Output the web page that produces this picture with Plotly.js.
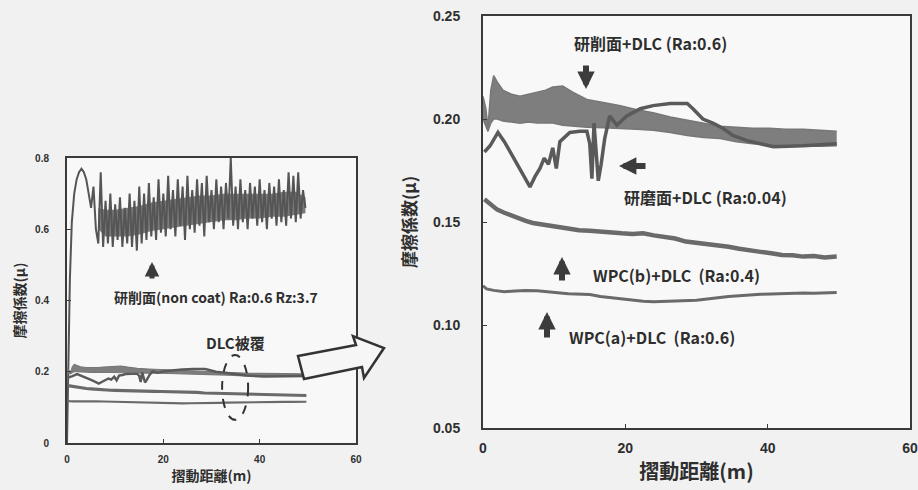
<!DOCTYPE html>
<html>
<head>
<meta charset="utf-8">
<script src="https://cdn.plot.ly/plotly-3.0.1.min.js"></script>
<style>html,body{margin:0;padding:0;background:#f1f1f1;}#chart{width:918px;height:490px;}</style>
</head>
<body>
<div id="chart"></div>
<script>
// ---- Data ----
// Left chart: uncoated ground surface (研削面, non coat)
const nonCoatX = [0, 0.3, 0.6, 1.0, 1.5, 2.0, 2.5, 3.0, 3.5, 4.0, 4.5, 5.0, 5.5, 6.0, 6.5, 7.0,
  7.5, 8.0, 8.5, 9.0, 9.5, 10.0, 10.5, 11.0, 11.5, 12.0, 12.5, 13.0, 13.5, 14.0, 14.5, 15.0, 15.5, 16.0,
  16.5, 17.0, 17.5, 18.0, 18.5, 19.0, 19.5, 20.0, 20.5, 21.0, 21.5, 22.0, 22.5, 23.0, 23.5, 24.0, 24.5,
  25.0, 25.5, 26.0, 26.5, 27.0, 27.5, 28.0, 28.5, 29.0, 29.5, 30.0, 30.5, 31.0, 31.5, 32.0, 32.5, 33.0,
  33.5, 34.0, 34.5, 35.0, 35.5, 36.0, 36.5, 37.0, 37.5, 38.0, 38.5, 39.0, 39.5, 40.0, 40.5, 41.0, 41.5,
  42.0, 42.5, 43.0, 43.5, 44.0, 44.5, 45.0, 45.5, 46.0, 46.5, 47.0, 47.5, 48.0, 48.5, 49.0, 49.5];
const nonCoatY = [0, 0.22, 0.46, 0.62, 0.70, 0.74, 0.76, 0.77, 0.76, 0.74, 0.70, 0.66, 0.72, 0.60, 0.56, 0.76,
  0.55, 0.68, 0.56, 0.70, 0.55, 0.67, 0.57, 0.69, 0.55, 0.66, 0.56, 0.70, 0.55, 0.68, 0.54, 0.72, 0.56, 0.70,
  0.57, 0.73, 0.58, 0.69, 0.57, 0.74, 0.59, 0.70, 0.58, 0.75, 0.60, 0.71, 0.58, 0.74, 0.61, 0.72, 0.57,
  0.75, 0.60, 0.71, 0.59, 0.74, 0.61, 0.73, 0.58, 0.75, 0.62, 0.71, 0.60, 0.74, 0.62, 0.72, 0.60, 0.73,
  0.63, 0.80, 0.61, 0.72, 0.60, 0.74, 0.62, 0.71, 0.60, 0.73, 0.63, 0.72, 0.61, 0.74, 0.62, 0.71, 0.60,
  0.73, 0.63, 0.72, 0.61, 0.74, 0.62, 0.71, 0.61, 0.76, 0.63, 0.75, 0.62, 0.76, 0.63, 0.71, 0.66];
// dense core of the uncoated trace (where the oscillations overlap)
const nonCoatCoreX = [6.5, 8, 10, 12.5, 15, 17.5, 20, 22.5, 25, 27.5, 30, 32.5, 35, 37.5, 40, 42.5, 45, 47.5, 49.5];
const nonCoatCoreLow = [0.60, 0.58, 0.58, 0.58, 0.585, 0.595, 0.60, 0.605, 0.61, 0.615, 0.62, 0.625, 0.625, 0.63, 0.63, 0.635, 0.635, 0.64, 0.645];
const nonCoatCoreHigh = [0.66, 0.655, 0.655, 0.66, 0.665, 0.675, 0.68, 0.685, 0.69, 0.695, 0.695, 0.70, 0.70, 0.70, 0.70, 0.70, 0.705, 0.705, 0.69];

// 研削面+DLC (Ra:0.6): noisy band, upper and lower envelopes
const groundX = [0, 0.4, 0.7, 1.1, 1.5, 2.0, 2.8, 4.0, 5.2, 6.4, 7.6, 8.8, 9.8, 11.2, 12.6, 14.6, 16.9,
  19.3, 21.6, 23.9, 26.3, 28.7, 31.0, 33.3, 35.6, 37.9, 40.2, 42.6, 45.0, 47.3, 49.7];
const groundUpper = [0.211, 0.205, 0.196, 0.214, 0.221, 0.218, 0.214, 0.212, 0.211, 0.212, 0.213, 0.214,
  0.2155, 0.216, 0.213, 0.2095, 0.208, 0.2065, 0.2045, 0.203, 0.201, 0.1995, 0.198, 0.1965, 0.196,
  0.1955, 0.1955, 0.195, 0.195, 0.1945, 0.194];
const groundLower = [0.200, 0.196, 0.194, 0.198, 0.200, 0.200, 0.199, 0.1985, 0.198, 0.1985, 0.198, 0.198,
  0.198, 0.197, 0.1965, 0.196, 0.1958, 0.1955, 0.195, 0.1945, 0.1935, 0.192, 0.191, 0.1905, 0.189,
  0.188, 0.1875, 0.187, 0.187, 0.1868, 0.187];

// 研磨面+DLC (Ra:0.04)
const polishX = [0.2, 1.0, 2.1, 3.0, 4.0, 5.0, 6.0, 6.6, 7.3, 8.0, 8.6, 9.2, 9.8, 10.3, 10.8, 11.5, 12.2,
  13.6, 14.6, 15.0, 15.3, 15.6, 15.9, 16.2, 16.6, 17.1, 17.8, 18.8, 20.2, 22.1, 23.9, 26.3, 28.7, 29.5,
  30.9, 32.3, 33.7, 35.1, 37.1, 40.8, 45.0, 49.7];
const polishY = [0.184, 0.187, 0.1935, 0.189, 0.183, 0.177, 0.171, 0.167, 0.172, 0.176, 0.181, 0.178,
  0.186, 0.176, 0.189, 0.191, 0.1935, 0.194, 0.194, 0.188, 0.171, 0.198, 0.185, 0.170, 0.178, 0.1905,
  0.2015, 0.197, 0.2015, 0.205, 0.2065, 0.2075, 0.2075, 0.205, 0.200, 0.198, 0.1955, 0.192, 0.1895,
  0.1865, 0.187, 0.188];

// WPC(b)+DLC (Ra:0.4)
const wpcbX = [0.2, 1, 2, 3, 4, 5, 6, 7, 8, 9, 10, 11, 12, 13.5, 15, 16.5, 18, 19.5, 21, 22.5, 24, 25.5,
  27, 28.5, 30, 31.5, 33, 34.5, 36, 37.5, 39, 40.5, 42, 43.5, 45, 46.5, 48, 49.7];
const wpcbY = [0.161, 0.159, 0.156, 0.1545, 0.153, 0.152, 0.1505, 0.1495, 0.149, 0.148, 0.1478, 0.1472,
  0.147, 0.146, 0.1458, 0.1452, 0.145, 0.1445, 0.1442, 0.1445, 0.1435, 0.143, 0.142, 0.1405, 0.14,
  0.139, 0.1385, 0.138, 0.137, 0.136, 0.1355, 0.1348, 0.134, 0.1338, 0.1332, 0.1335, 0.1328, 0.1332];

// WPC(a)+DLC (Ra:0.6)
const wpcaX = [0, 0.5, 1.5, 3, 4.5, 6, 7.6, 9, 10.5, 12, 13.5, 15, 16.5, 18, 19.5, 21, 22.5, 24, 25.5,
  27, 28.5, 30, 31.5, 33, 34.5, 36, 37.5, 39, 40.5, 42, 43.5, 45, 46.5, 48, 49.7];
const wpcaY = [0.119, 0.1175, 0.1168, 0.1162, 0.1165, 0.1168, 0.1166, 0.116, 0.1157, 0.1152, 0.115,
  0.1148, 0.1138, 0.1132, 0.1125, 0.1118, 0.1115, 0.1113, 0.1115, 0.1114, 0.1116, 0.112, 0.1126,
  0.1133, 0.1138, 0.1142, 0.1147, 0.1149, 0.115, 0.1152, 0.1153, 0.1155, 0.1154, 0.1157, 0.1158];

const xTicks = [0, 20, 40, 60];
const yTicksLeft = [0, 0.2, 0.4, 0.6, 0.8];
const yTicksRight = [0.05, 0.10, 0.15, 0.20, 0.25];

// ---- Helpers ----
const W = 918, H = 490;
const PX = v => v / W, PY = v => 1 - v / H;
const TXT = '#2e2e2e';
const JP = '"Noto Sans CJK JP", "Noto Sans", sans-serif';
const NUM = '"Liberation Sans", Arial, sans-serif';

function dlcTraces(xa, ya, s) {
  return [
    {x: groundX, y: groundLower, xaxis: xa, yaxis: ya, mode: 'lines', line: {color: '#777', width: 1.5 * s}, hoverinfo: 'skip'},
    {x: groundX, y: groundUpper, xaxis: xa, yaxis: ya, mode: 'lines', fill: 'tonexty', fillcolor: '#7e7e7e', line: {color: '#777', width: 1.5 * s}, hoverinfo: 'skip'},
    {x: polishX, y: polishY, xaxis: xa, yaxis: ya, mode: 'lines', line: {color: '#5a5a5a', width: 3.5 * s}},
    {x: wpcbX, y: wpcbY, xaxis: xa, yaxis: ya, mode: 'lines', line: {color: '#6a6a6a', width: 4.5 * s}},
    {x: wpcaX, y: wpcaY, xaxis: xa, yaxis: ya, mode: 'lines', line: {color: '#6a6a6a', width: 3 * s}}
  ];
}

const traces = [
  {x: nonCoatCoreX, y: nonCoatCoreLow, xaxis: 'x', yaxis: 'y', mode: 'lines', line: {color: '#7a7a7a', width: 0}, hoverinfo: 'skip'},
  {x: nonCoatCoreX, y: nonCoatCoreHigh, xaxis: 'x', yaxis: 'y', mode: 'lines', fill: 'tonexty', fillcolor: '#7a7a7a', line: {color: '#7a7a7a', width: 0}, hoverinfo: 'skip'},
  {x: nonCoatX, y: nonCoatY, xaxis: 'x', yaxis: 'y', mode: 'lines', line: {color: '#555', width: 2}},
  ...dlcTraces('x', 'y', 0.7),
  ...dlcTraces('x2', 'y2', 1)
];

const axisCommon = {
  showline: true, mirror: true, linecolor: '#3a3a3a', linewidth: 2,
  showgrid: false, zeroline: false, ticks: 'inside', ticklen: 4, tickcolor: '#3a3a3a',
  automargin: false, fixedrange: true
};

const arrow = (hx, hy, tx, ty, w) => ({
  x: PX(hx), y: PY(hy), xref: 'paper', yref: 'paper', text: '',
  showarrow: true, arrowhead: 2, arrowsize: 0.58, arrowwidth: w || 5, arrowcolor: '#3c3c3c',
  ax: tx - hx, ay: ty - hy
});
const label = (cx, cy, text, size) => ({
  x: PX(cx), y: PY(cy), xref: 'paper', yref: 'paper', text: text, showarrow: false,
  xanchor: 'center', yanchor: 'middle', font: {family: JP, size: size, color: TXT, weight: 'bold'}
});

const layout = {
  width: W, height: H,
  margin: {l: 0, r: 0, t: 0, b: 0},
  paper_bgcolor: '#f1f1f1', plot_bgcolor: '#f8f8f8',
  showlegend: false,
  xaxis: Object.assign({}, axisCommon, {
    domain: [PX(67), PX(356)], range: [0, 60], tickvals: xTicks,
    tickfont: {family: NUM, size: 10, color: TXT, weight: 'bold'}, ticklabelstandoff: 6,
    title: {text: '摺動距離(m)', font: {family: JP, size: 14, color: TXT, weight: 'bold'}, standoff: 7}
  }),
  yaxis: Object.assign({}, axisCommon, {
    domain: [PY(443), PY(158)], range: [0, 0.8], tickvals: yTicksLeft,
    tickfont: {family: NUM, size: 10, color: TXT, weight: 'bold'}, ticklabelstandoff: 14,
    title: {text: '摩擦係数(μ)', font: {family: JP, size: 14, color: TXT, weight: 'bold'}, standoff: 6}
  }),
  xaxis2: Object.assign({}, axisCommon, {
    anchor: 'y2', domain: [PX(483), PX(910)], range: [0, 60], tickvals: xTicks,
    tickfont: {family: NUM, size: 14, color: TXT, weight: 'bold'}, ticklabelstandoff: 6,
    title: {text: '摺動距離(m)', font: {family: JP, size: 20, color: TXT, weight: 'bold'}, standoff: 10}
  }),
  yaxis2: Object.assign({}, axisCommon, {
    anchor: 'x2', domain: [PY(428), PY(16)], range: [0.05, 0.25], tickvals: yTicksRight,
    tickformat: '.2f',
    tickfont: {family: NUM, size: 14, color: TXT, weight: 'bold'}, ticklabelstandoff: 18,
    title: {text: '摩擦係数(μ)', font: {family: JP, size: 17, color: TXT, weight: 'bold'}, standoff: 12}
  }),
  shapes: [
    // dashed ellipse marking the DLC coated curves
    {type: 'circle', xref: 'x', yref: 'y', x0: 32.2, x1: 37.6, y0: 0.065, y1: 0.247,
     line: {color: '#333', width: 2, dash: 'dash'}},
    // hollow block arrow pointing to the enlarged chart
    {type: 'path', xref: 'paper', yref: 'paper',
     path: 'M' + PX(298) + ',' + PY(356) + ' L' + PX(356) + ',' + PY(345) + ' L' + PX(353) + ',' + PY(336) +
           ' L' + PX(384) + ',' + PY(348) + ' L' + PX(364) + ',' + PY(378) + ' L' + PX(362) + ',' + PY(367) +
           ' L' + PX(304) + ',' + PY(379) + ' Z',
     fillcolor: '#f6f6f6', line: {color: '#333', width: 2.5}}
  ],
  annotations: [
    label(216, 297, '研削面(non coat) Ra:0.6 Rz:3.7', 14),
    arrow(152, 262, 152, 280, 5),
    label(235, 342, 'DLC被覆', 15),
    label(650, 43, '研削面+DLC (Ra:0.6)', 16),
    arrow(586, 89, 586, 64, 6),
    arrow(619, 166, 647, 166, 6),
    label(705, 197, '研磨面+DLC (Ra:0.04)', 16),
    arrow(562, 257, 562, 282, 6),
    label(676, 275, 'WPC(b)+DLC  (Ra:0.4)', 16),
    arrow(547, 312, 547, 339, 6),
    label(652, 337, 'WPC(a)+DLC  (Ra:0.6)', 16)
  ]
};

Plotly.newPlot('chart', traces, layout, {displayModeBar: false, staticPlot: true});
</script>
</body>
</html>
